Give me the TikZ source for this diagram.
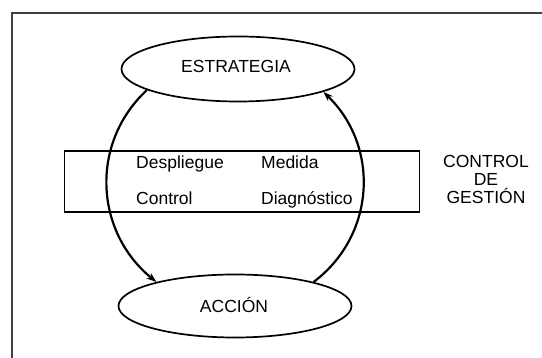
\documentclass[tikz,border=0pt]{standalone}
\usepackage{fontspec}
\setmainfont{Liberation Sans}
\usetikzlibrary{shapes.geometric,arrows.meta}
\begin{document}
\begin{tikzpicture}[x=1pt,y=1pt,
  lbl/.style={font=\fontsize{17.5}{20}\selectfont, inner sep=0pt},
  oval/.style={ellipse, draw, line width=1.7pt, minimum width=233pt, minimum height=65pt, inner sep=0pt},
  cycle/.style={line width=2.2pt, -{Stealth[length=10pt,width=7pt]}},
]
\useasboundingbox (0,0) rectangle (542,358);
% open frame (top and left sides)
\coordinate (fr) at (542,345);
\coordinate (fc) at (12,345);
\coordinate (fb) at (12,0);
\draw[line width=1.8pt, black!75] (fr) -- (fc) -- (fb);

% control band
\node[draw, line width=1.4pt, minimum width=355pt, minimum height=61pt, inner sep=0pt] (band) at (242,176.5) {};
\node[lbl, anchor=base west] (despl) at (136,189) {Despliegue};
\node[lbl, anchor=base west] (medida) at (261,189) {Medida};
\node[lbl, anchor=base west] (ctrl) at (136,153) {Control};
\node[lbl, anchor=base west] (diag) at (261,153) {Diagnóstico};
\node[lbl, anchor=base] (cg1) at (486,190) {CONTROL};
\node[lbl, anchor=base] (cg2) at (486,172) {DE};
\node[lbl, anchor=base] (cg3) at (486,154) {GESTIÓN};

% strategy / action ovals
\node[oval] (estr) at (238,289) {};
\node[lbl, anchor=base] (estrt) at (236,285.3) {ESTRATEGIA};
\node[oval, minimum height=63pt] (acc) at (235,52) {};
\node[lbl, anchor=base] (acct) at (234,45) {ACCIÓN};

% the cycle
\draw[cycle] (estr.193.9) to[out=223,in=141,looseness=1.05] (acc.163);
\draw[cycle] (acc.17) to[out=37,in=316,looseness=1.05] (estr.345.8);
\end{tikzpicture}
\end{document}
